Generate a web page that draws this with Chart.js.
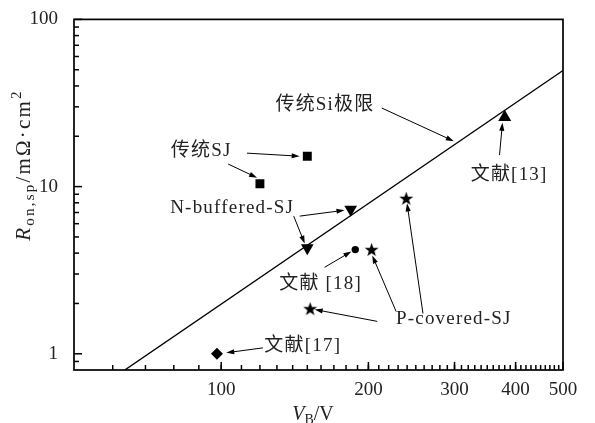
<!DOCTYPE html>
<html>
<head>
<meta charset="utf-8">
<script src="https://cdn.jsdelivr.net/npm/chart.js@4"></script>
<style>
  html, body { margin: 0; padding: 0; background: #fff; }
</style>
</head>
<body>
<canvas id="myChart" width="595" height="423"></canvas>
<script>
// breakdown voltage (V) and specific on-resistance (mOhm*cm2)
const siLimitV = [63.5, 500];
const siLimitR = [0.8, 49.5];
const convSjV = [120, 150];
const convSjR = [10.4, 15.2];
const nBufferedV = [150, 184];
const nBufferedR = [4.3, 7.3];
const pCoveredV = [152, 203, 239];
const pCoveredR = [1.86, 4.2, 8.5];
const ref13V = [380];
const ref13R = [26];
const ref17V = [98];
const ref17R = [1.0];
const ref18V = [188];
const ref18R = [4.2];

const xTickLabels = [100, 200, 300, 400, 500];
const yTickLabels = [1, 10, 100];
const yMinorTicks = [0.9, 2, 3, 4, 5, 6, 7, 8, 9, 20, 30, 40, 50, 60, 70, 80, 90];

// annotation text and arrows, in data coordinates
const labels = [
    { text: '传统Si极限', x: 163, y: 30.8 },
    { text: '传统SJ', x: 91, y: 16.3 },
    { text: 'N-buffered-SJ', x: 105.3, y: 7.42 },
    { text: '文献 [18]', x: 159.7, y: 2.62 },
    { text: 'P-covered-SJ', x: 299, y: 1.607 },
    { text: '文献[13]', x: 388, y: 11.77 },
    { text: '文献[17]', x: 146.8, y: 1.115 }
];
const arrows = [
    [213, 29.5, 299, 18.7],
    [112.9, 15.85, 144.7, 15.2],
    [103.3, 13.65, 118.4, 11.3],
    [144.7, 6.66, 178.7, 7.22],
    [140.7, 6.66, 148.2, 4.56],
    [162.7, 3.29, 184.6, 4.09],
    [208.5, 1.563, 155.3, 1.84],
    [227.9, 1.79, 203.7, 3.87],
    [258.6, 1.742, 239.9, 7.94],
    [370.8, 15.43, 376, 24.1],
    [121.7, 1.085, 102.4, 1.014]
];

const serif = "'Liberation Serif', 'Noto Sans CJK SC', serif";

function pts(xs, ys) {
    return xs.map((v, i) => ({ x: v, y: ys[i] }));
}

// minor x ticks every 10 V
const xMinorTicks = [];
for (let v = 60; v < 500; v += 10) xMinorTicks.push(v);

// filled five-point star for the P-covered points
const star = document.createElement('canvas');
star.width = 15;
star.height = 15;
(function () {
    const c = star.getContext('2d');
    c.fillStyle = '#000';
    c.beginPath();
    for (let i = 0; i < 10; i++) {
        const r = i % 2 ? 2.9 : 7.3;
        const a = -Math.PI / 2 + i * Math.PI / 5;
        c.lineTo(7.5 + r * Math.cos(a), 8 + r * Math.sin(a));
    }
    c.closePath();
    c.fill();
})();

function arrow(ctx, x1, y1, x2, y2) {
    const ang = Math.atan2(y2 - y1, x2 - x1);
    const L = 8, W = 2.6;
    const c = Math.cos(ang), s = Math.sin(ang);
    ctx.beginPath();
    ctx.moveTo(x1, y1);
    ctx.lineTo(x2 - L * 0.7 * c, y2 - L * 0.7 * s);
    ctx.stroke();
    ctx.beginPath();
    ctx.moveTo(x2, y2);
    ctx.lineTo(x2 - L * c + W * s, y2 - L * s - W * c);
    ctx.lineTo(x2 - L * c - W * s, y2 - L * s + W * c);
    ctx.closePath();
    ctx.fill();
}

function drawParts(ctx, parts, cx, baseY) {
    let total = 0;
    for (const p of parts) {
        ctx.font = p.font;
        total += ctx.measureText(p.t).width;
    }
    let x = cx - total / 2;
    ctx.textAlign = 'left';
    ctx.textBaseline = 'alphabetic';
    for (const p of parts) {
        ctx.font = p.font;
        ctx.fillText(p.t, x, baseY + p.dy);
        x += ctx.measureText(p.t).width;
    }
}

const decorations = {
    id: 'decorations',
    afterDraw(chart) {
        const { ctx, chartArea: a, scales: { x, y } } = chart;
        ctx.save();
        ctx.strokeStyle = '#000';
        ctx.fillStyle = '#000';

        // inward ticks
        ctx.lineWidth = 1.5;
        ctx.lineCap = 'butt';
        const xt = xMinorTicks.map(v => [v, 5]).concat(xTickLabels.map(v => [v, 8]));
        for (const [v, len] of xt) {
            const px = x.getPixelForValue(v);
            ctx.beginPath();
            ctx.moveTo(px, a.bottom);
            ctx.lineTo(px, a.bottom - len);
            ctx.stroke();
        }
        const yt = yMinorTicks.map(v => [v, 5]).concat(yTickLabels.map(v => [v, 8]));
        for (const [v, len] of yt) {
            const py = y.getPixelForValue(v);
            ctx.beginPath();
            ctx.moveTo(a.left, py);
            ctx.lineTo(a.left + len, py);
            ctx.stroke();
        }

        // frame
        ctx.lineWidth = 1.7;
        ctx.strokeRect(a.left, a.top, a.right - a.left, a.bottom - a.top);

        // arrows
        ctx.lineWidth = 1;
        for (const [x1, y1, x2, y2] of arrows) {
            arrow(ctx, x.getPixelForValue(x1), y.getPixelForValue(y1),
                x.getPixelForValue(x2), y.getPixelForValue(y2));
        }

        // labels
        ctx.font = '19px ' + serif;
        ctx.letterSpacing = '1.2px';
        ctx.fillStyle = '#222';
        ctx.textAlign = 'center';
        ctx.textBaseline = 'middle';
        for (const l of labels) {
            ctx.fillText(l.text, x.getPixelForValue(l.x), y.getPixelForValue(l.y));
        }
        ctx.letterSpacing = '0px';

        // axis titles
        drawParts(ctx, [
            { t: 'V', font: 'italic 20px ' + serif, dy: 0 },
            { t: 'B', font: '14px ' + serif, dy: 4 },
            { t: '/V', font: '20px ' + serif, dy: 0 }
        ], 313, 420);

        ctx.translate(30, 165);
        ctx.rotate(-Math.PI / 2);
        ctx.letterSpacing = '2.2px';
        drawParts(ctx, [
            { t: 'R', font: 'italic 21px ' + serif, dy: 0 },
            { t: 'on,sp', font: '15px ' + serif, dy: 4 },
            { t: '/mΩ·cm', font: '21px ' + serif, dy: 0 },
            { t: '2', font: '15px ' + serif, dy: -9 }
        ], 0, 0);
        ctx.restore();
    }
};

const markers = { backgroundColor: '#000', borderColor: '#000', borderWidth: 0 };

const chart = new Chart(document.getElementById('myChart'), {
    type: 'scatter',
    data: {
        datasets: [
            { data: pts(siLimitV, siLimitR), showLine: true, borderColor: '#000', borderWidth: 1.4, pointRadius: 0 },
            { data: pts(convSjV, convSjR), pointStyle: 'rect', pointRadius: 6.3, ...markers },
            { data: pts(nBufferedV, nBufferedR), pointStyle: 'triangle', rotation: 180, pointRadius: 7.3, ...markers },
            { data: pts(pCoveredV, pCoveredR), pointStyle: star, ...markers },
            { data: pts(ref13V, ref13R), pointStyle: 'triangle', pointRadius: 7.5, ...markers },
            { data: pts(ref17V, ref17R), pointStyle: 'rectRot', pointRadius: 6, ...markers },
            { data: pts(ref18V, ref18R), pointStyle: 'circle', pointRadius: 3.7, ...markers }
        ]
    },
    options: {
        responsive: false,
        animation: false,
        devicePixelRatio: 1,
        layout: { padding: { left: 0, right: 32, top: 14, bottom: 0 } },
        plugins: {
            legend: { display: false },
            tooltip: { enabled: false }
        },
        scales: {
            x: {
                type: 'logarithmic',
                min: 50,
                max: 500,
                grid: { display: false },
                border: { display: false },
                afterBuildTicks: s => { s.ticks = xTickLabels.map(v => ({ value: v })); },
                afterFit: s => { s.height = 53; },
                ticks: {
                    autoSkip: false,
                    maxRotation: 0,
                    padding: 1,
                    color: '#222',
                    font: { family: serif, size: 19 },
                    callback: v => String(v)
                }
            },
            y: {
                type: 'logarithmic',
                min: 0.8,
                max: 100,
                grid: { display: false },
                border: { display: false },
                afterBuildTicks: s => { s.ticks = yTickLabels.map(v => ({ value: v })); },
                afterFit: s => { s.width = 74; },
                ticks: {
                    autoSkip: false,
                    padding: 8,
                    color: '#222',
                    font: { family: serif, size: 19 },
                    callback: v => String(v)
                }
            }
        }
    },
    plugins: [decorations]
});
</script>
</body>
</html>
